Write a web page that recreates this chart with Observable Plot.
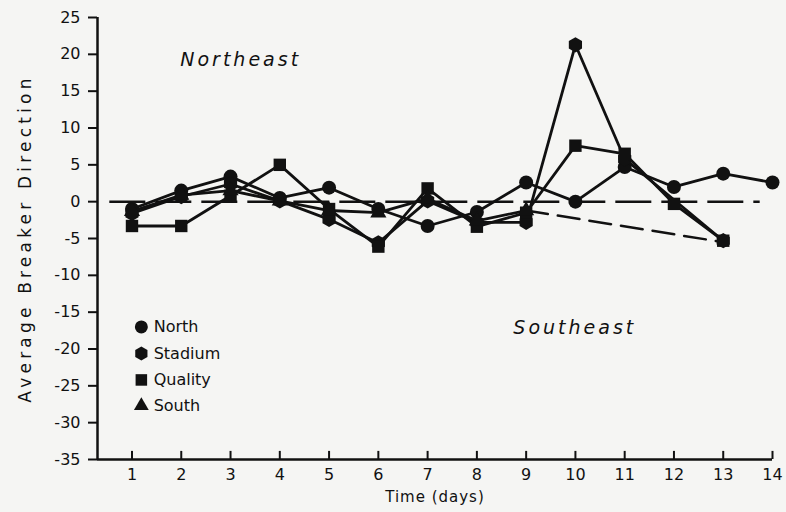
<!DOCTYPE html>
<html><head><meta charset="utf-8">
<script src="https://cdn.jsdelivr.net/npm/d3@7"></script>
<script src="https://cdn.jsdelivr.net/npm/@observablehq/plot@0.6"></script>
<style>body{margin:0;background:#f5f5f3} svg{display:block}</style>
</head><body><div id="chart"></div>
<script>
// ---- data ----
const days = [1,2,3,4,5,6,7,8,9,10,11,12,13,14];
const north   = [-1.0, 1.5, 3.4, 0.5, 1.9, -1.0, -3.3, -1.4, 2.6, 0.0, 4.7, 2.0, 3.8, 2.6];
const stadium = [-1.6, 0.7, 2.4, 0.1, -2.4, -5.6, 0.1, -2.8, -2.8, 21.3, 5.8, null, -5.3];
const quality = [-3.3, -3.3, 0.8, 5.0, -1.0, -6.1, 1.8, -3.4, -1.5, 7.6, 6.5, -0.3, -5.3];
const south   = [-1.3, 0.9, 1.5, 0.1, -1.2, -1.5, 0.4, -2.6, -1.2];
const southDashedDays = [9, 13];
const southDashedVals = [-1.2, -5.5];
const yTicks = [25,20,15,10,5,0,-5,-10,-15,-20,-25,-30,-35];
const seriesNames = ["North","Stadium","Quality","South"];
const seriesSymbols = ["circle","hexagon","square","triangle"];

const toRows = vals => vals.map((v,i)=>({day: days[i], v})).filter(d => d.v !== null);
const series = [north, stadium, quality, south].map(toRows);
const southDash = southDashedDays.map((d,i)=>({day:d, v:southDashedVals[i]}));

const ink = "#111";
const symR = {circle: 7, hexagon: 6.6, square: 7, triangle: 6};
const legX = 1.19, legTextX = 1.44, legY = [-17.0, -20.6, -24.2, -27.7];

const marks = [
  // axes frame
  Plot.ruleX([0.3], {y1: -35, y2: 25, stroke: ink, strokeWidth: 2.5}),
  Plot.ruleY([-35], {x1: 0.3, x2: 14, stroke: ink, strokeWidth: 2.5}),
  Plot.axisY({ticks: yTicks, tickSize: 9, tickPadding: 8, tickFormat: d => String(d), label: null, fontSize: 16, strokeWidth: 2}),
  Plot.axisX({ticks: days, tickSize: 0, tickPadding: 9, tickFormat: d => String(d), label: null, fontSize: 16}),
  Plot.ruleX(days, {x: d => d, y1: -35, y2: -33.9, stroke: ink, strokeWidth: 2}),
  // zero reference line
  Plot.ruleY([0], {x1: 0.55, x2: 13.75, stroke: ink, strokeWidth: 2.5, strokeDasharray: "36,10"}),
  Plot.line(southDash, {x: "day", y: "v", stroke: ink, strokeWidth: 2.5, strokeDasharray: "22,10"}),
];
series.forEach((rows, i) => {
  marks.push(Plot.line(rows, {x: "day", y: "v", stroke: ink, strokeWidth: 2.8}));
  marks.push(Plot.dot(rows, {x: "day", y: "v", symbol: seriesSymbols[i], r: symR[seriesSymbols[i]], fill: ink}));
});
// legend
seriesNames.forEach((name, i) => {
  marks.push(Plot.dot([name], {x: () => legX, y: () => legY[i], symbol: seriesSymbols[i], r: symR[seriesSymbols[i]] - 0.5, fill: ink}));
  marks.push(Plot.text([name], {x: () => legTextX, y: () => legY[i], text: d => d, textAnchor: "start", fontSize: 16, fill: ink}));
});
// annotations
marks.push(Plot.text(["Northeast"], {x: () => 1.98, y: () => 19.3, text: d => d, textAnchor: "start", fontSize: 19, fontStyle: "italic", fill: ink}));
marks.push(Plot.text(["Southeast"], {x: () => 8.74, y: () => -17.1, text: d => d, textAnchor: "start", fontSize: 19, fontStyle: "italic", fill: ink}));
// axis labels
marks.push(Plot.text(["Average Breaker Direction"], {frameAnchor: "left", textAnchor: "middle", rotate: -90, dx: -72, text: d => d, fontSize: 17, fill: ink}));
marks.push(Plot.text(["Time (days)"], {frameAnchor: "bottom", dy: 42, text: d => d, fontSize: 15, fill: ink}));

const chart = Plot.plot({
  width: 786, height: 512,
  marginLeft: 97, marginRight: 14, marginTop: 17, marginBottom: 53,
  x: {domain: [0.3, 14]},
  y: {domain: [-35, 25]},
  style: {background: "transparent", fontFamily: "DejaVu Sans", color: ink},
  marks
});
// letter spacing for labels
d3.select(chart).selectAll("text").filter(function(){ return this.textContent==="Average Breaker Direction"; }).style("letter-spacing","4.2px");
d3.select(chart).selectAll("text").filter(function(){ const t=this.textContent; return t==="Northeast"||t==="Southeast"; }).style("letter-spacing","3px");
d3.select(chart).selectAll("text").filter(function(){ return this.textContent==="Time (days)"; }).style("letter-spacing","1px");
document.getElementById("chart").appendChild(chart);
</script></body></html>
